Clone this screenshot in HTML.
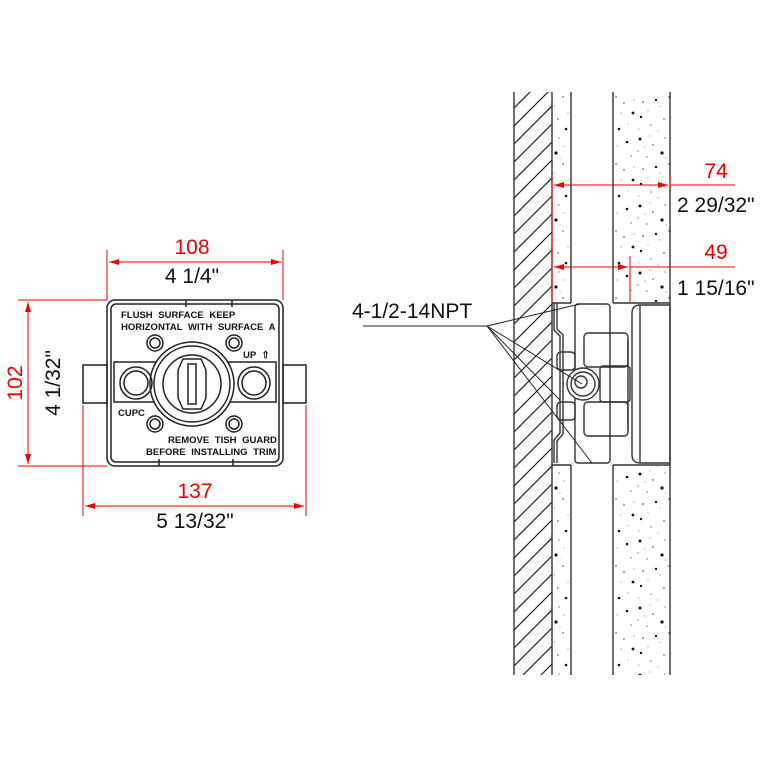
<!DOCTYPE html>
<html><head><meta charset="utf-8"><style>
html,body{margin:0;padding:0;background:#fff;}
svg{display:block;}
text{font-family:"Liberation Sans",Arial,sans-serif;}
</style></head><body>
<svg width="768" height="768" viewBox="0 0 768 768" xmlns="http://www.w3.org/2000/svg">
<defs>
<pattern id="hatch" patternUnits="userSpaceOnUse" width="40" height="18" patternTransform="translate(514,0)">
<line x1="0" y1="36" x2="40" y2="-4" stroke="#222" stroke-width="1.2"/>
<line x1="0" y1="18" x2="40" y2="-22" stroke="#222" stroke-width="1.2"/>
<line x1="0" y1="54" x2="40" y2="14" stroke="#222" stroke-width="1.2"/>
</pattern>
<pattern id="speck" patternUnits="userSpaceOnUse" width="53" height="67">
<circle cx="4" cy="5" r="1.5" fill="#111"/><circle cx="17" cy="11" r="0.7" fill="#333"/>
<circle cx="29" cy="4" r="0.6" fill="#444"/><circle cx="11" cy="23" r="0.6" fill="#444"/>
<circle cx="26" cy="19" r="1.6" fill="#111"/><circle cx="33" cy="30" r="0.7" fill="#333"/>
<circle cx="7" cy="35" r="0.8" fill="#333"/><circle cx="20" cy="33" r="1.2" fill="#111"/>
<circle cx="14" cy="2" r="0.5" fill="#555"/><circle cx="2" cy="17" r="0.6" fill="#444"/>
<circle cx="34" cy="12" r="0.5" fill="#555"/><circle cx="24" cy="39" r="0.5" fill="#555"/>
<circle cx="9" cy="13" r="0.5" fill="#555"/><circle cx="30" cy="24" r="0.5" fill="#555"/>
<circle cx="44" cy="8" r="1.3" fill="#111"/><circle cx="48" cy="22" r="0.6" fill="#444"/>
<circle cx="41" cy="36" r="0.7" fill="#333"/><circle cx="50" cy="46" r="1.4" fill="#111"/>
<circle cx="5" cy="50" r="1.2" fill="#111"/><circle cx="15" cy="58" r="0.6" fill="#444"/>
<circle cx="28" cy="52" r="0.7" fill="#333"/><circle cx="36" cy="62" r="1.3" fill="#111"/>
<circle cx="45" cy="57" r="0.5" fill="#555"/><circle cx="22" cy="64" r="0.5" fill="#555"/>
<circle cx="38" cy="46" r="0.5" fill="#555"/><circle cx="12" cy="44" r="0.5" fill="#555"/>
<circle cx="3" cy="62" r="0.5" fill="#555"/><circle cx="51" cy="33" r="0.5" fill="#555"/>
</pattern>
<marker id="ar" viewBox="0 0 10 6" refX="10" refY="3" markerWidth="11" markerHeight="6" orient="auto-start-reverse" markerUnits="userSpaceOnUse"><path d="M0,0L10,3L0,6z" fill="#e00"/></marker>
</defs>

<!-- LEFT VIEW -->
<g stroke="#e00" stroke-width="1" fill="none">
<line x1="107" y1="250" x2="107" y2="300"/><line x1="283" y1="250" x2="283" y2="300"/>
<line x1="109" y1="262" x2="281" y2="262" marker-start="url(#ar)" marker-end="url(#ar)"/>
<line x1="18" y1="300" x2="107" y2="300"/><line x1="18" y1="466" x2="107" y2="466"/>
<line x1="28" y1="302" x2="28" y2="464" marker-start="url(#ar)" marker-end="url(#ar)"/>
<line x1="83" y1="405" x2="83" y2="516"/><line x1="306" y1="405" x2="306" y2="516"/>
<line x1="85" y1="506" x2="304" y2="506" marker-start="url(#ar)" marker-end="url(#ar)"/>
</g>
<text x="192" y="254" font-size="21" fill="#e00" text-anchor="middle">108</text>
<text x="192" y="283" font-size="21" fill="#111" text-anchor="middle">4 1/4"</text>
<text x="195" y="498" font-size="21" fill="#e00" text-anchor="middle">137</text>
<text x="195" y="528" font-size="21" fill="#111" text-anchor="middle">5 13/32"</text>
<text transform="translate(22,383) rotate(-90)" font-size="21" fill="#e00" text-anchor="middle">102</text>
<text transform="translate(60,383) rotate(-90)" font-size="21" fill="#111" text-anchor="middle">4 1/32"</text>

<g stroke="#222" stroke-width="1.5" fill="none">
<rect x="83" y="365" width="24" height="38"/><rect x="283" y="365" width="23" height="38"/>
<rect x="107" y="300" width="176" height="166" rx="8"/>
<rect x="111" y="304" width="168" height="158" rx="5"/>
<rect x="114" y="362" width="162" height="40"/>
<circle cx="192" cy="384" r="42" fill="#fff"/><circle cx="192" cy="384" r="38"/>
<circle cx="192" cy="384" r="29"/>
<path d="M183 359 L201 359 L206 370 L206 398 L201 409 L183 409 L178 398 L178 370 Z"/>
<path d="M188 364 L196 364 L196 404 L188 404 Z"/>
<circle cx="136" cy="383" r="16"/><circle cx="136" cy="383" r="12"/>
<circle cx="254" cy="383" r="16"/><circle cx="254" cy="383" r="12"/>
<circle cx="155" cy="343" r="8"/><circle cx="234" cy="343" r="8"/>
<circle cx="155" cy="424" r="8"/><circle cx="234" cy="424" r="8"/>
<circle cx="155" cy="343" r="5"/><circle cx="234" cy="343" r="5"/>
<circle cx="155" cy="424" r="5"/><circle cx="234" cy="424" r="5"/>
<line x1="186" y1="300" x2="186" y2="307"/><line x1="232" y1="300" x2="232" y2="307"/>
<line x1="159" y1="459" x2="159" y2="466"/><line x1="233" y1="459" x2="233" y2="466"/>
</g>
<g font-size="9.5" font-weight="bold" fill="#111" style="word-spacing:3px">
<text x="121" y="318">FLUSH SURFACE KEEP</text>
<text x="121" y="330">HORIZONTAL WITH SURFACE A</text>
<text x="243" y="358">UP ⇧</text>
<text x="118" y="416">CUPC</text>
<text x="168" y="443">REMOVE TISH GUARD</text>
<text x="146" y="455">BEFORE INSTALLING TRIM</text>
</g>

<!-- RIGHT VIEW -->
<rect x="514" y="92" width="38" height="583" fill="url(#hatch)"/>
<rect x="552" y="92" width="19" height="211" fill="url(#speck)"/>
<rect x="552" y="465" width="19" height="210" fill="url(#speck)"/>
<rect x="613" y="92" width="57" height="211" fill="url(#speck)"/>
<rect x="613" y="465" width="57" height="210" fill="url(#speck)"/>
<g stroke="#333" stroke-width="1.4" fill="none">
<line x1="514" y1="92" x2="514" y2="675"/><line x1="552" y1="92" x2="552" y2="675"/>
<line x1="571" y1="92" x2="571" y2="303"/><line x1="571" y1="465" x2="571" y2="675"/>
<line x1="613" y1="92" x2="613" y2="303"/><line x1="613" y1="465" x2="613" y2="675"/>
<line x1="670" y1="92" x2="670" y2="675"/>
<line x1="552" y1="303" x2="571" y2="303"/><line x1="552" y1="465" x2="571" y2="465"/>
<line x1="613" y1="303" x2="670" y2="303"/><line x1="613" y1="465" x2="670" y2="465"/>
<path d="M554 303 L554 330 L560 336 L560 433 L554 440 L554 463"/>
<path d="M557 303 L557 329 L563 335 L563 434 L557 441 L557 463"/>
<rect x="575" y="304" width="35" height="159" rx="3"/>
<rect x="557" y="352" width="18" height="18" rx="4"/><rect x="557" y="402" width="18" height="18" rx="4"/>
<rect x="584" y="333" width="44" height="34" rx="4"/><rect x="584" y="402" width="44" height="34" rx="4"/>
<rect x="600" y="366" width="30" height="36" rx="3"/>
<circle cx="583" cy="384" r="16" fill="#fff"/><circle cx="583" cy="384" r="12"/><circle cx="581" cy="382" r="6"/>
<path d="M640 305 L670 305 L670 463 L640 463 Q632 463 632 455 L632 313 Q632 305 640 305 Z"/>
<line x1="640" y1="305" x2="640" y2="463"/>
<line x1="628" y1="340" x2="628" y2="430"/>
</g>
<g stroke="#e00" stroke-width="1" fill="none">
<line x1="552" y1="175" x2="552" y2="302"/>
<line x1="670" y1="175" x2="670" y2="190"/>
<line x1="554" y1="185" x2="668" y2="185" marker-start="url(#ar)" marker-end="url(#ar)"/>
<line x1="670" y1="185" x2="735" y2="185"/>
<line x1="630" y1="256" x2="630" y2="302"/>
<line x1="554" y1="267" x2="628" y2="267" marker-start="url(#ar)" marker-end="url(#ar)"/>
<line x1="630" y1="267" x2="735" y2="267"/>
</g>
<text x="716" y="178" font-size="21" fill="#e00" text-anchor="middle">74</text>
<text x="677" y="212" font-size="21" fill="#111">2 29/32"</text>
<text x="716" y="259" font-size="21" fill="#e00" text-anchor="middle">49</text>
<text x="677" y="295" font-size="21" fill="#111">1 15/16"</text>

<text x="352" y="318" font-size="21" fill="#111">4-1/2-14NPT</text>
<g stroke="#222" stroke-width="1" fill="none">
<line x1="363" y1="326" x2="487" y2="326"/>
<line x1="487" y1="326" x2="580" y2="304"/>
<line x1="487" y1="326" x2="582" y2="384"/>
<line x1="487" y1="326" x2="592" y2="463"/>
<line x1="487" y1="326" x2="560" y2="400"/>
</g>
</svg>
</body></html>
